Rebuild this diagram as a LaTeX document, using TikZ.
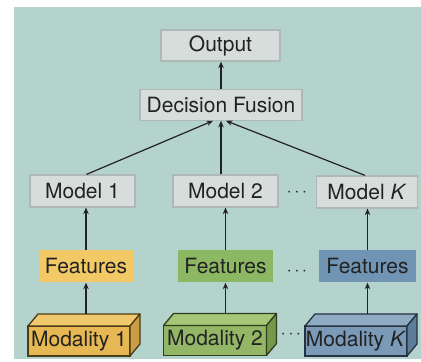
\documentclass[tikz,border=0pt]{standalone}
\usepackage{fontspec}
\setmainfont{TeX Gyre Heros}
\usetikzlibrary{arrows.meta, positioning, calc}

\definecolor{bgteal}{HTML}{B4D3CD}
\definecolor{boxgray}{HTML}{D6DDDB}
\definecolor{boxedge}{HTML}{AEB8B6}
\definecolor{inkgray}{HTML}{222222}
\definecolor{featyellow}{HTML}{F2C964}
\definecolor{featgreen}{HTML}{8DB863}
\definecolor{featblue}{HTML}{7094B3}
\definecolor{modyellow}{HTML}{E6B752}
\definecolor{modyellowtop}{HTML}{F0C96C}
\definecolor{modyellowside}{HTML}{C89D44}
\definecolor{modyellowedge}{HTML}{4A3C18}
\definecolor{modgreen}{HTML}{93B667}
\definecolor{modgreentop}{HTML}{A6C678}
\definecolor{modgreenside}{HTML}{759849}
\definecolor{modgreenedge}{HTML}{2F3E1E}
\definecolor{modblue}{HTML}{7A9AB8}
\definecolor{modbluetop}{HTML}{8FABC4}
\definecolor{modblueside}{HTML}{5D7D9B}
\definecolor{modblueedge}{HTML}{26323F}

\begin{document}
\begin{tikzpicture}[
  x=1pt, y=1pt,
  font=\fontsize{21}{24}\selectfont, text=inkgray,
  gbox/.style={
    rectangle, fill=boxgray, draw=boxedge, line width=1.2pt,
    minimum height=31pt, inner sep=2pt
  },
  featbox/.style={
    rectangle, minimum width=95pt, minimum height=32pt, inner sep=2pt
  },
  modbox/.style={
    rectangle, draw=#1, line width=1.3pt, outer sep=0pt,
    minimum height=30pt, inner sep=1pt
  },
  arrow/.style={-{Stealth[length=6.5pt,width=5.5pt]}, line width=1.2pt, draw=inkgray},
  dotsnode/.style={font=\fontsize{16}{18}\selectfont}
]
\useasboundingbox (0,0) rectangle (421,362);
\fill[bgteal] (14,3) rectangle (421,355);

% top of the tree
\node[gbox, minimum width=119pt] (out) at (220.5,316.5) {Output};
\node[gbox, minimum width=162pt] (fusion) at (221,257.3) {Decision Fusion};

% one model per modality
\node[gbox, minimum width=105pt, minimum height=32pt] (model1) at (82.5,171) {Model 1};
\node[gbox, minimum width=105pt, minimum height=32pt] (model2) at (225.5,171) {Model 2};
\node[gbox, minimum width=101pt, minimum height=32pt] (modelK) at (367,170) {Model \textit{K}};

\node[featbox, fill=featyellow, minimum width=94pt] (feat1) at (86,95.5) {Features};
\node[featbox, fill=featgreen] (feat2) at (225.5,95.5) {Features};
\node[featbox, fill=featblue, minimum width=97pt] (featK) at (367.5,95.5) {Features};

\node[modbox=modyellowedge, fill=modyellow, minimum width=102pt] (mod1) at (79,21) {Modality 1};
\node[modbox=modgreenedge, fill=modgreen, minimum width=103pt] (mod2) at (215,21.5) {Modality 2};
\node[modbox=modblueedge, fill=modblue, minimum width=100pt] (modK) at (356,21) {Modality \textit{K}};

% top and side faces of the blocks
\foreach \m/\ctop/\cside/\cedge in {mod1/modyellowtop/modyellowside/modyellowedge,
    mod2/modgreentop/modgreenside/modgreenedge, modK/modbluetop/modblueside/modblueedge} {
  \filldraw[fill=\ctop, draw=\cedge, line width=1.3pt, line join=round]
    (\m.north west) -- ++(10,12) -- ($(\m.north east)+(10,12)$) -- (\m.north east) -- cycle;
  \filldraw[fill=\cside, draw=\cedge, line width=1.3pt, line join=round]
    (\m.north east) -- ++(10,12) -- ($(\m.south east)+(10,12)$) -- (\m.south east) -- cycle;
  \coordinate (\m-top) at ($(\m.north)+(0,12)$);
}

\node[dotsnode] (dotsmodel) at (297,169) {$\cdots$};
\node[dotsnode] (dotsfeat) at (297,90) {$\cdots$};
\node[dotsnode] (dotsmod) at (291,27) {$\cdots$};

\draw[arrow] (fusion.north) -- (fusion.north |- out.south);
\draw[arrow] ([xshift=4pt]model1.north) -- ([xshift=-8pt]fusion.south);
\draw[arrow] (model2.north -| fusion.south) -- (fusion.south);
\draw[arrow] ([xshift=-2pt]modelK.north) -- ([xshift=5pt]fusion.south);

\draw[arrow] (feat1.north) -- (feat1.north |- model1.south);
\draw[arrow] (feat2.north) -- (feat2.north |- model2.south);
\draw[arrow] (featK.north) -- (featK.north |- modelK.south);

\draw[arrow] (feat1.south |- mod1-top) -- (feat1.south);
\draw[arrow] (feat2.south |- mod2-top) -- (feat2.south);
\draw[arrow] (featK.south |- modK-top) -- (featK.south);
\end{tikzpicture}
\end{document}
